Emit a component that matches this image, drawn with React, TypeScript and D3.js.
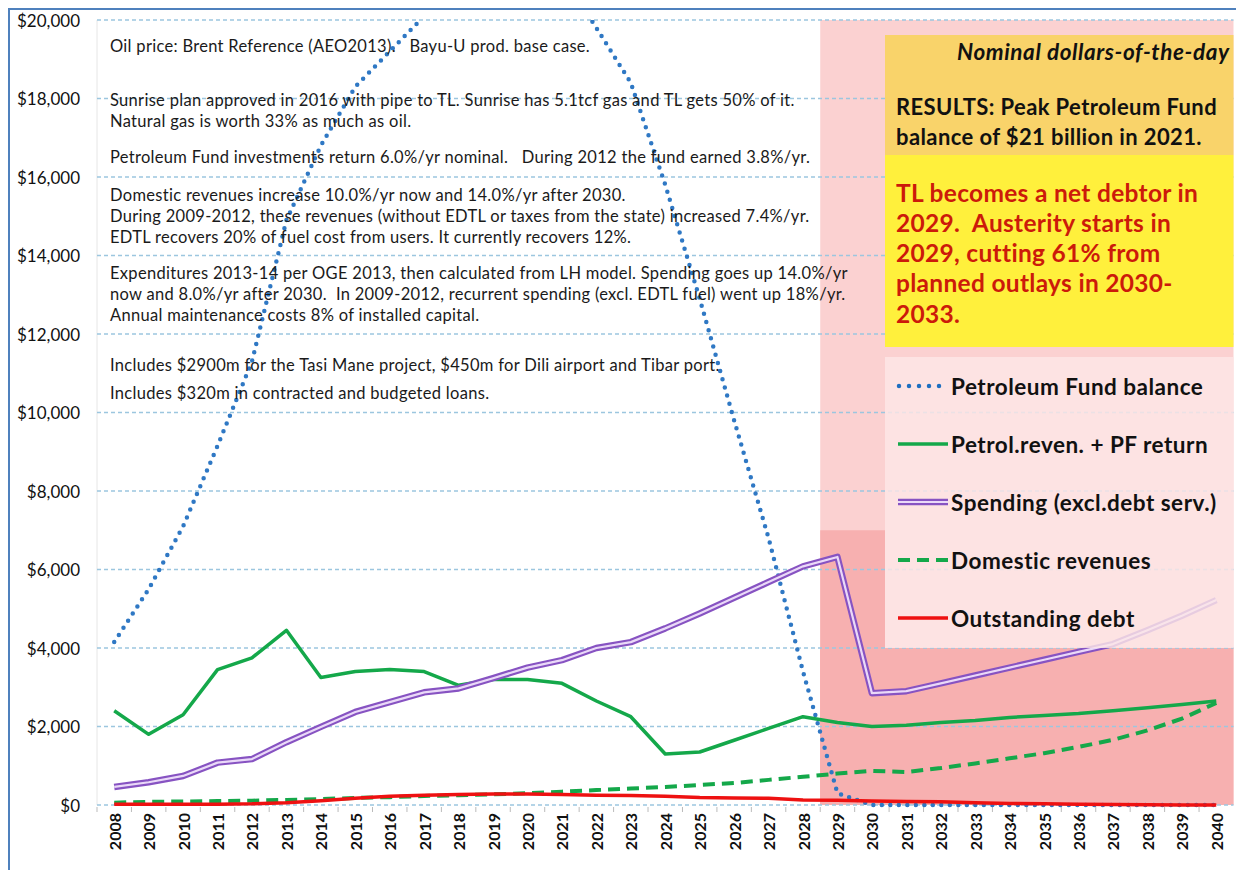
import React from 'react';
import { scaleBand, scaleLinear, line } from 'd3';

const years = [
  '2008', '2009', '2010', '2011', '2012', '2013', '2014', '2015', '2016', '2017', '2018',
  '2019', '2020', '2021', '2022', '2023', '2024', '2025', '2026', '2027', '2028', '2029',
  '2030', '2031', '2032', '2033', '2034', '2035', '2036', '2037', '2038', '2039', '2040',
];
const yTicks = [0, 2000, 4000, 6000, 8000, 10000, 12000, 14000, 16000, 18000, 20000];

// $ millions, nominal
const pfBalance = [
  4150, 5500, 7100, 9150, 11300, 14900, 16800, 18300, 19200, 20100, 20600,
  20900, 21050, 21150, 19800, 18400, 15800, 12900, 9800, 6800, 3400, 300,
  0, 0, 0, 0, 0, 0, 0, 0, 0, 0, 0,
];
const petrolRevenue = [
  2400, 1800, 2300, 3450, 3750, 4450, 3250, 3400, 3450, 3400, 3050,
  3200, 3200, 3100, 2650, 2250, 1300, 1350, 1650, 1950, 2250, 2100,
  2000, 2030, 2100, 2150, 2230, 2280, 2330, 2400, 2480, 2560, 2650,
];
const spending = [
  460, 580, 740, 1080, 1170, 1600, 1990, 2370, 2620, 2870, 2970,
  3230, 3500, 3690, 4000, 4150, 4500, 4880, 5280, 5680, 6080, 6320,
  2850, 2900, 3100, 3300, 3500, 3700, 3900, 4100, 4450, 4820, 5220,
];
const domesticRevenue = [
  60, 80, 90, 100, 110, 130, 150, 180, 200, 230, 250,
  270, 300, 340, 380, 420, 460, 510, 560, 640, 720, 800,
  870, 840, 940, 1060, 1190, 1320, 1480, 1660, 1900, 2200, 2600,
];
const outstandingDebt = [
  20, 20, 20, 20, 30, 60, 110, 170, 220, 250, 270,
  280, 280, 270, 250, 240, 220, 190, 180, 170, 130, 120,
  100, 90, 80, 60, 40, 30, 20, 10, 5, 0, 0,
];

const noteGroups = [
  ['Oil price: Brent Reference (AEO2013).   Bayu-U prod. base case.'],
  [
    'Sunrise plan approved in 2016 with pipe to TL. Sunrise has 5.1tcf gas and TL gets 50% of it.',
    'Natural gas is worth 33% as much as oil.',
  ],
  ['Petroleum Fund investments return 6.0%/yr nominal.   During 2012 the fund earned 3.8%/yr.'],
  [
    'Domestic revenues increase 10.0%/yr now and 14.0%/yr after 2030.',
    'During 2009-2012, these revenues (without EDTL or taxes from the state) increased 7.4%/yr.',
    'EDTL recovers 20% of fuel cost from users. It currently recovers 12%.',
  ],
  [
    'Expenditures 2013-14 per OGE 2013, then calculated from LH model. Spending goes up 14.0%/yr',
    'now and 8.0%/yr after 2030.  In 2009-2012, recurrent spending (excl. EDTL fuel) went up 18%/yr.',
    'Annual maintenance costs 8% of installed capital.',
  ],
  ['Includes $2900m for the Tasi Mane project, $450m for Dili airport and Tibar port.'],
  ['Includes $320m in contracted and budgeted loans.'],
];
const unitNote = 'Nominal dollars-of-the-day';
const resultLines = ['RESULTS: Peak Petroleum Fund', 'balance of $21 billion in 2021.'];
const warningLines = [
  'TL becomes a net debtor in',
  '2029.  Austerity starts in',
  '2029, cutting 61% from',
  'planned outlays in 2030-',
  '2033.',
];
const legendLabels = [
  'Petroleum Fund balance',
  'Petrol.reven. + PF return',
  'Spending (excl.debt serv.)',
  'Domestic revenues',
  'Outstanding debt',
];

const FONT = 'Lato, Carlito, Calibri, sans-serif';
const left = 97;
const right = 1233.5;
const top = 20;
const bottom = 805;

const App = () => {
  const x = scaleBand().domain(years).range([left, right]);
  const cx = (i) => x(years[i]) + x.bandwidth() / 2;
  const y = scaleLinear().domain([0, 20000]).range([bottom, top]);
  const path = (vals) =>
    line()
      .x((d, i) => cx(i))
      .y((d) => y(d))(vals);

  const austerityX = x('2029');
  const boxX = 885;
  const legendTop = 357;
  const legendRows = legendLabels.map((d, i) => 386 + i * 58);

  // note line positions: groups separated by larger gaps
  const groupStarts = [46, 100, 157, 195, 273, 365, 393];
  const notes = [];
  noteGroups.forEach((g, gi) =>
    g.forEach((t, li) => notes.push({ t, y: groupStarts[gi] + li * 21 }))
  );

  return (
    <svg
      width={1236}
      height={870}
      style={{ position: 'absolute', left: 0, top: 0, background: '#fff' }}
      fontFamily={FONT}
    >
      <defs>
        <clipPath id='plot'>
          <rect x={left} y={top} width={right - left} height={bottom - top + 10} />
        </clipPath>
      </defs>
      <rect x={0} y={0} width={1236} height={870} fill='#fff' />

      {/* austerity shading */}
      <rect x={austerityX} y={y(20000)} width={right - austerityX} height={bottom - y(20000)} fill='#fbd1d1' />
      <rect x={austerityX} y={y(7000)} width={boxX - austerityX} height={bottom - y(7000)} fill='#f7b0b0' />
      <rect x={austerityX} y={y(4000)} width={right - austerityX} height={bottom - y(4000)} fill='#f7b0b0' />

      {/* grid */}
      <line x1={left} x2={left} y1={top} y2={bottom} stroke='#e6e6e6' strokeWidth={1} />
      {yTicks.map((t) => (
        <g key={t}>
          <line
            x1={left}
            x2={right}
            y1={y(t)}
            y2={y(t)}
            stroke='#9cc6df'
            strokeWidth={1.3}
            strokeDasharray='4 3'
          />
          <text x={80} y={y(t)} textAnchor='end' dominantBaseline='central' fontSize={17} fill='#111'>
            ${t.toLocaleString('en-US')}
          </text>
        </g>
      ))}
      {years.map((yr, i) => (
        <g key={yr}>
          <line x1={x(yr)} x2={x(yr)} y1={bottom + 2} y2={bottom + 7} stroke='#bbb' strokeWidth={1} />
          <text
            transform={`translate(${cx(i)},${bottom + 8}) rotate(-90)`}
            textAnchor='end'
            dominantBaseline='central'
            fontSize={16}
            fontWeight='bold'
            fill='#111'
          >
            {yr}
          </text>
        </g>
      ))}

      {/* series */}
      <path
        d={path(pfBalance)}
        clipPath='url(#plot)'
        fill='none'
        stroke='#2f78c4'
        strokeWidth={4.5}
        strokeLinecap='round'
        strokeDasharray='0 8.5'
      />
      <path d={path(petrolRevenue)} fill='none' stroke='#14a84a' strokeWidth={3.5} strokeLinejoin='round' />
      <path d={path(spending)} fill='none' stroke='#8753c2' strokeWidth={6.5} strokeLinejoin='round' />
      <path d={path(spending)} fill='none' stroke='#ead9f8' strokeWidth={2.2} strokeLinejoin='round' />
      <path
        d={path(domesticRevenue)}
        fill='none'
        stroke='#14a84a'
        strokeWidth={4}
        strokeDasharray='12 7'
      />
      <path d={path(outstandingDebt)} fill='none' stroke='#ee1111' strokeWidth={3.5} strokeLinejoin='round' />

      {/* notes */}
      {notes.map((n, i) => (
        <text
          key={i}
          x={110}
          y={n.y}
          xmlSpace='preserve'
          style={{ whiteSpace: 'pre' }}
          dominantBaseline='central'
          fontSize={16.5}
          letterSpacing={0.3}
          fill='#1a1a1a'
        >
          {n.t}
        </text>
      ))}

      {/* result boxes */}
      <rect x={boxX} y={35} width={right - boxX} height={120} fill='#f9d36a' />
      <rect x={boxX} y={155} width={right - boxX} height={192} fill='#fff03c' />
      <text
        x={957}
        y={51}
        dominantBaseline='central'
        fontSize={22.5}
        letterSpacing={0.6}
        fontWeight='bold'
        fontStyle='italic'
        fill='#111'
      >
        {unitNote}
      </text>
      {resultLines.map((t, i) => (
        <text
          key={t}
          x={896}
          y={106 + i * 30}
          dominantBaseline='central'
          fontSize={22}
          letterSpacing={0.4}
          fontWeight='bold'
          fill='#111'
        >
          {t}
        </text>
      ))}
      {warningLines.map((t, i) => (
        <text
          key={t}
          x={896}
          y={192 + i * 30.3}
          xmlSpace='preserve'
          style={{ whiteSpace: 'pre' }}
          dominantBaseline='central'
          fontSize={24.5}
          letterSpacing={0.3}
          fontWeight='bold'
          fill='#cc1a0a'
        >
          {t}
        </text>
      ))}

      {/* legend */}
      <rect x={boxX} y={legendTop} width={right - boxX} height={y(4000) - legendTop} fill='#fde6e6' opacity={0.82} />
      <line x1={899} x2={946} y1={legendRows[0]} y2={legendRows[0]} stroke='#1f6fc0' strokeWidth={4.5} strokeLinecap='round' strokeDasharray='0 10' />
      <line x1={898} x2={948} y1={legendRows[1]} y2={legendRows[1]} stroke='#14a84a' strokeWidth={3.5} />
      <line x1={898} x2={948} y1={legendRows[2]} y2={legendRows[2]} stroke='#8753c2' strokeWidth={6.5} />
      <line x1={898} x2={948} y1={legendRows[2]} y2={legendRows[2]} stroke='#ead9f8' strokeWidth={2.2} />
      <line x1={898} x2={948} y1={legendRows[3]} y2={legendRows[3]} stroke='#14a84a' strokeWidth={4} strokeDasharray='12 7' />
      <line x1={898} x2={948} y1={legendRows[4]} y2={legendRows[4]} stroke='#ee1111' strokeWidth={3.5} />
      {legendLabels.map((t, i) => (
        <text
          key={t}
          x={951}
          y={legendRows[i]}
          dominantBaseline='central'
          fontSize={22.5}
          letterSpacing={0.5}
          fontWeight='bold'
          fill='#111'
        >
          {t}
        </text>
      ))}

      {/* frame */}
      <rect x={9} y={9} width={1260} height={900} fill='none' stroke='#4f81bd' strokeWidth={2} />
    </svg>
  );
};

export default App;
